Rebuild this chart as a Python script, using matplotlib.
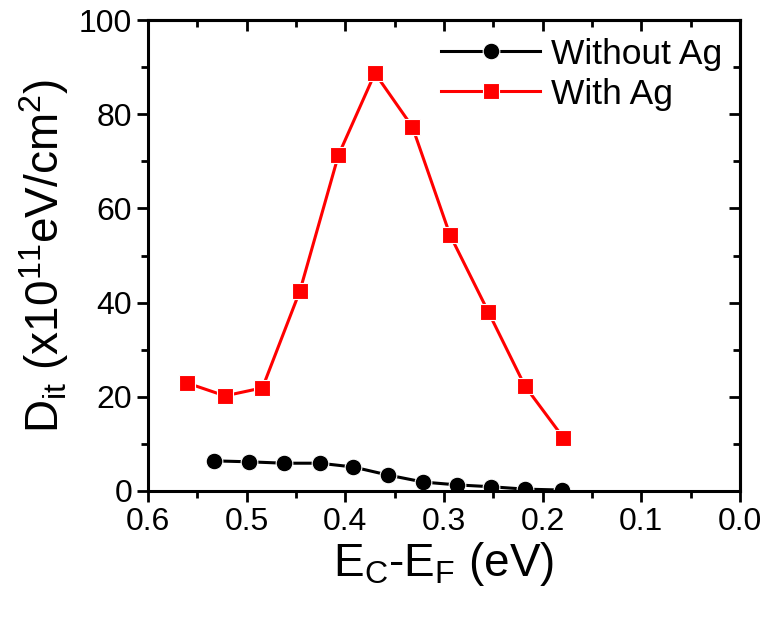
import matplotlib
matplotlib.use("Agg")
import matplotlib.pyplot as plt
from matplotlib.ticker import MultipleLocator, FormatStrFormatter

plt.rcParams['font.family'] = ['Liberation Sans', 'DejaVu Sans']
plt.rcParams['mathtext.fontset'] = 'custom'
plt.rcParams['mathtext.rm'] = 'Liberation Sans'

x_without = [0.533, 0.498, 0.462, 0.426, 0.392, 0.357, 0.321, 0.287, 0.252, 0.218, 0.180]
y_without = [6.4, 6.2, 5.9, 5.9, 5.1, 3.4, 1.9, 1.3, 0.9, 0.4, 0.2]
x_with = [0.560, 0.522, 0.484, 0.446, 0.407, 0.370, 0.332, 0.294, 0.255, 0.218, 0.179]
y_with = [22.9, 20.2, 21.9, 42.5, 71.3, 88.7, 77.3, 54.4, 38.0, 22.3, 11.3]
labels = ['Without Ag', 'With Ag']

fig = plt.figure(figsize=(7.63, 6.17), dpi=100)
ax = fig.add_axes([148/763, 1-491/617, (740-148)/763, (491-20)/617])

ax.plot(x_without, y_without, '-', color='black', lw=2.2, marker='o', ms=12,
        mec='white', mew=0.8, label=labels[0])
ax.plot(x_with, y_with, '-', color='red', lw=2.2, marker='s', ms=11,
        mec='white', mew=0.8, label=labels[1])

ax.set_xlim(0.6, 0.0)
ax.set_ylim(0, 100)
ax.xaxis.set_major_locator(MultipleLocator(0.1))
ax.xaxis.set_minor_locator(MultipleLocator(0.05))
ax.yaxis.set_major_locator(MultipleLocator(20))
ax.yaxis.set_minor_locator(MultipleLocator(10))
ax.xaxis.set_major_formatter(FormatStrFormatter('%.1f'))
ax.tick_params(which='both', direction='out', width=2, labelsize=23)
ax.tick_params(which='major', length=8)
ax.tick_params(which='minor', length=5)
for s in ax.spines.values():
    s.set_linewidth(2.2)

secx = ax.secondary_xaxis('top')
secx.xaxis.set_major_locator(MultipleLocator(0.1))
secx.xaxis.set_minor_locator(MultipleLocator(0.05))
secx.tick_params(which='both', direction='in', width=2, labeltop=False)
secx.tick_params(which='major', length=8)
secx.tick_params(which='minor', length=5)
secx.spines['top'].set_linewidth(2.2)
secy = ax.secondary_yaxis('right')
secy.yaxis.set_major_locator(MultipleLocator(20))
secy.yaxis.set_minor_locator(MultipleLocator(10))
secy.tick_params(which='both', direction='in', width=2, labelright=False)
secy.tick_params(which='major', length=8)
secy.tick_params(which='minor', length=5)
secy.spines['right'].set_linewidth(2.2)

ax.set_xlabel(r'E$_\mathregular{C}$-E$_\mathregular{F}$ (eV)', fontsize=33, labelpad=2)
ax.set_ylabel(r'D$_\mathregular{it}$ (x10$^\mathregular{11}$eV/cm$^\mathregular{2}$)', fontsize=33)
ax.yaxis.set_label_coords(-0.13, 0.5)

ax.legend(loc='upper right', frameon=False, fontsize=25.5, handlelength=2.8,
          borderaxespad=0.1, handletextpad=0.3, labelspacing=0.2,
          bbox_to_anchor=(1.0, 1.0))

fig.savefig('out.png', dpi=100)
